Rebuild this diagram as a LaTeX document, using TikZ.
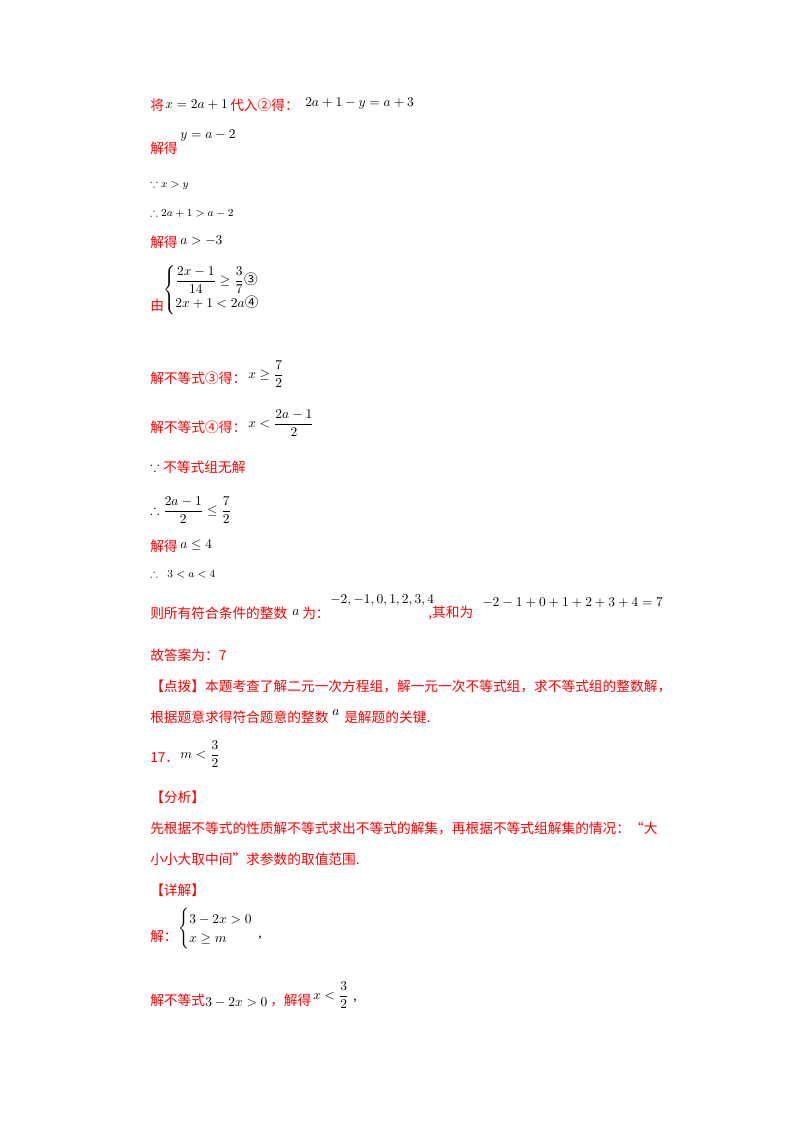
\documentclass[tikz,border=0pt]{standalone}
\usepackage{amsmath,amssymb}
\usepackage{fontspec}
\newfontfamily\cjk{Noto Sans CJK SC}
\setmainfont{Liberation Serif}
\begin{document}
\begin{tikzpicture}[x=0.744pt,y=-0.744pt,
  t/.style={anchor=west,inner sep=0pt,font=\fontsize{10.2}{12}\selectfont},
  r/.style={t,text=red,font=\fontsize{10.2}{12}\selectfont\cjk},
  s/.style={t,font=\fontsize{8.5}{10}\selectfont}]
\useasboundingbox (0,0) rectangle (800,1132);
\node[r] (l1a) at (150,105) {将};
\node[t] (l1b) at (165,105) {$x=2a+1$};
\node[r] (l1c) at (230,105) {代入②得：};
\node[t] (l1d) at (305,103) {$2a+1-y=a+3$};
\node[r] (l2a) at (150,148) {解得};
\node[t] (l2b) at (180,135) {$y=a-2$};
\node[s] (l3) at (150,185) {$\because x>y$};
\node[s] (l4) at (150,213) {$\therefore 2a+1>a-2$};
\node[r] (l5a) at (150,242) {解得};
\node[t] (l5b) at (180,241) {$a>-3$};
\node[r] (l6a) at (150,305) {由};
\node[t] (l6b) at (163,290) {$\begin{cases}\dfrac{2x-1}{14}\ge\dfrac{3}{7}\text{\cjk ③}\\[2pt] 2x+1<2a\text{\cjk ④}\end{cases}$};
\node[r] (l7a) at (150,378) {解不等式③得：};
\node[t] (l7b) at (248,374) {$x\ge\dfrac{7}{2}$};
\node[r] (l8a) at (150,427) {解不等式④得：};
\node[t] (l8b) at (248,423) {$x<\dfrac{2a-1}{2}$};
\node[t] (l9a) at (150,467) {$\because$};
\node[r] (l9b) at (163,467) {不等式组无解};
\node[t] (l10) at (150,510) {$\therefore\dfrac{2a-1}{2}\le\dfrac{7}{2}$};
\node[r] (l11a) at (150,546) {解得};
\node[t] (l11b) at (180,545) {$a\le4$};
\node[s] (l12) at (150,574) {$\therefore\;\;3<a<4$};
\node[r] (l13a) at (150,613) {则所有符合条件的整数};
\node[t] (l13b) at (292,613) {$a$};
\node[r] (l13c) at (302,613) {为：};
\node[t] (l13d) at (330,600) {$-2,-1,0,1,2,3,4$};
\node[r] (l13e) at (428,613) {,其和为};
\node[t] (l13f) at (482,603) {$-2-1+0+1+2+3+4=7$};
\node[r] (l14) at (150,655) {故答案为：7};
\node[r] (l15) at (150,686) {【点拨】本题考查了解二元一次方程组，解一元一次不等式组，求不等式组的整数解，};
\node[r] (l16a) at (150,717) {根据题意求得符合题意的整数};
\node[t] (l16b) at (332,713) {$a$};
\node[r] (l16c) at (344,717) {是解题的关键.};
\node[r] (l17a) at (150,758) {17．};
\node[t] (l17b) at (180,754) {$m<\dfrac{3}{2}$};
\node[r] (l18) at (150,797) {【分析】};
\node[r] (l19) at (150,828) {先根据不等式的性质解不等式求出不等式的解集，再根据不等式组解集的情况：“大};
\node[r] (l20) at (150,859) {小小大取中间”求参数的取值范围.};
\node[r] (l21) at (150,890) {【详解】};
\node[r] (l22a) at (150,936) {解：};
\node[t] (l22b) at (178,929) {$\begin{cases}3-2x>0\\ x\ge m\end{cases}$};
\node[t] (l22c) at (258,938) {,};
\node[r] (l23a) at (150,1000) {解不等式};
\node[t] (l23b) at (205,1003) {$3-2x>0$};
\node[r] (l23c) at (270,1000) {，解得};
\node[t] (l23d) at (313,995) {$x<\dfrac{3}{2}$};
\node[t] (l23e) at (353,1001) {,};
\end{tikzpicture}
\end{document}
